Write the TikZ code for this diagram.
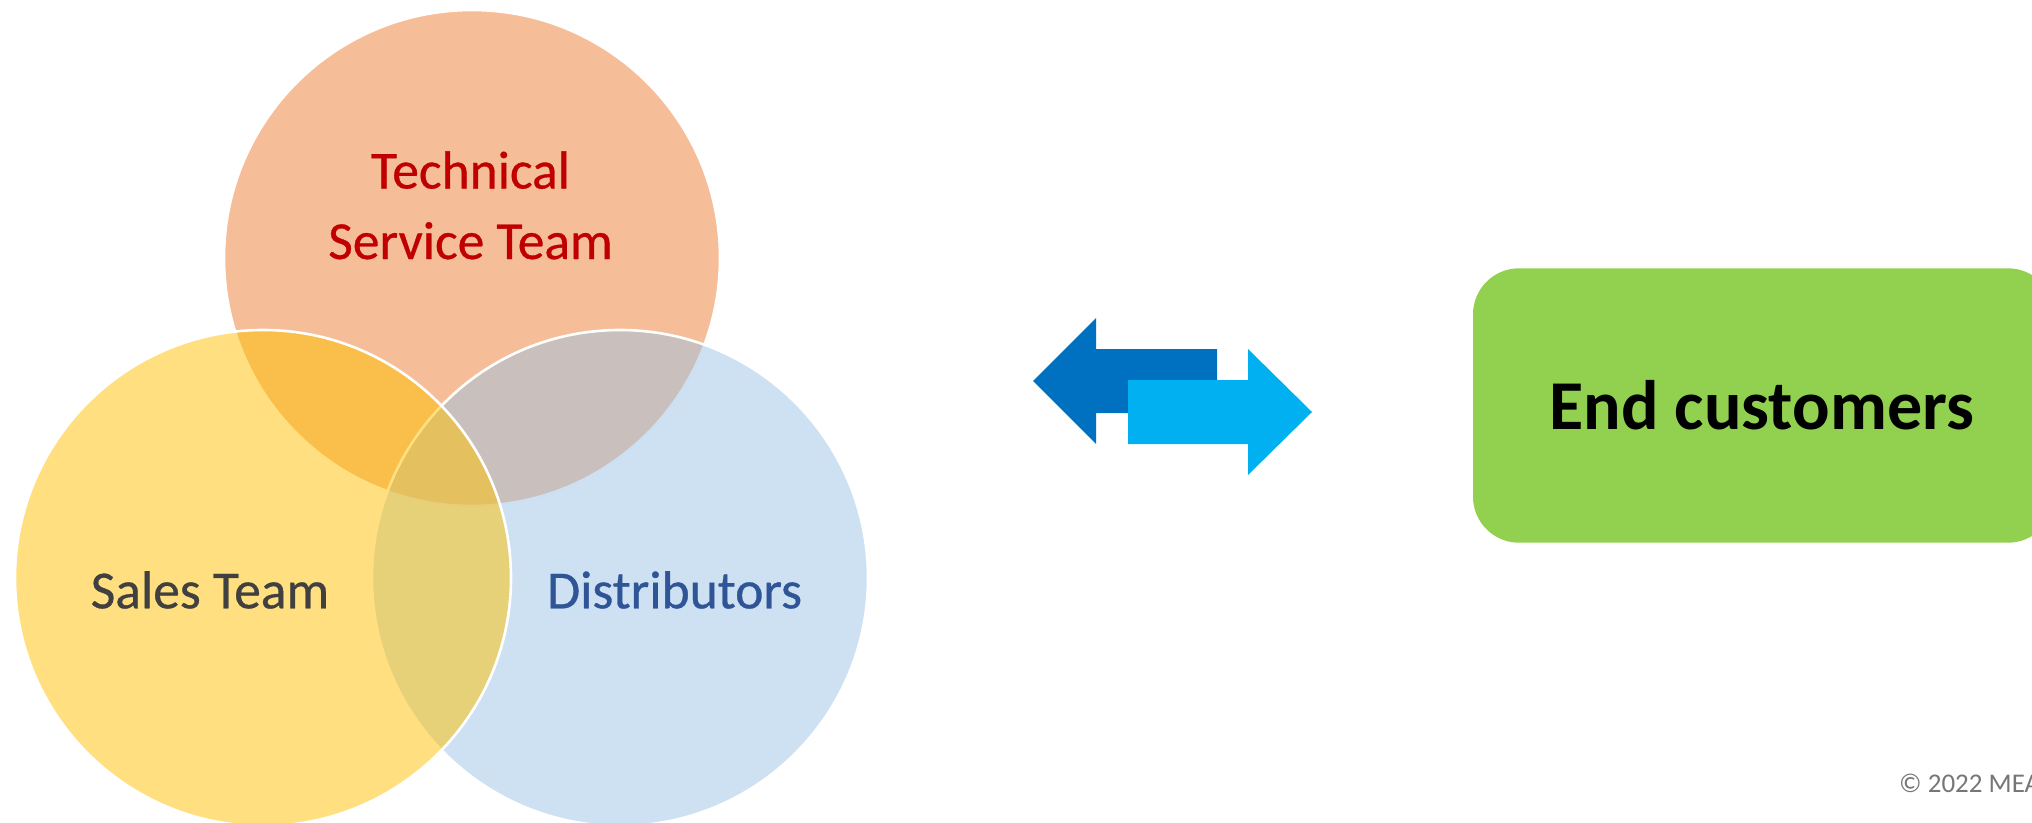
\documentclass[tikz,border=0pt]{standalone}
\usepackage{fontspec}
\setmainfont{Carlito}
\newfontfamily\labelfont[FakeBold=0.6]{Carlito}
\definecolor{topc}{HTML}{ED7D31}
\definecolor{salesc}{HTML}{FFC000}
\definecolor{distc}{HTML}{9DC3E6}
\definecolor{techtext}{HTML}{C00000}
\definecolor{salestext}{HTML}{404040}
\definecolor{disttext}{HTML}{2F5597}
\definecolor{boxgreen}{HTML}{92D050}
\definecolor{arrowdark}{HTML}{0070C0}
\definecolor{arrowlight}{HTML}{00B0F0}
\definecolor{copygray}{HTML}{767676}
\tikzset{
  venn/.style={draw=white, line width=2.6pt, fill opacity=0.5},
  lbl/.style={inner sep=0pt, anchor=base, font=\labelfont\fontsize{53.5}{64}\selectfont},
}
\begin{document}
\begin{tikzpicture}[x=1pt,y=-1pt]
\useasboundingbox (0,0) rectangle (2032,822);
% Venn circles (order: top, distributors, sales)
\draw[venn, fill=topc] (472,258) circle[radius=248pt];
\draw[venn, fill=distc] (620,578) circle[radius=248pt];
\draw[venn, fill=salesc] (263,578) circle[radius=248pt];
% labels
\node[lbl, text=techtext] (tech) at (470.5,188.5) {Technical};
\node[lbl, text=techtext] (serv) at (470.5,259) {Service Team};
\node[lbl, text=salestext] (sales) at (210,608.3) {Sales Team};
\node[lbl, text=disttext] (dist) at (674.7,608.3) {Distributors};
% arrows
\fill[arrowdark] (1033,381) -- (1096,318) -- (1096,349) -- (1217,349) -- (1217,413) -- (1096,413) -- (1096,444) -- cycle;
\fill[arrowlight] (1312,412) -- (1248,349) -- (1248,380) -- (1128,380) -- (1128,444) -- (1248,444) -- (1248,475) -- cycle;
% end customers box
\fill[boxgreen, rounded corners=46pt] (1473,268.3) rectangle (2054,542.7);
\node[inner sep=0pt, anchor=base, font=\fontsize{70}{84}\selectfont\bfseries] (cust) at (1762,429.3) {End customers};
% copyright
\node[inner sep=0pt, anchor=base west, text=copygray, font=\fontsize{27}{32}\selectfont] (copy) at (1899,792.7) {© 2022 MEA};
\end{tikzpicture}
\end{document}
